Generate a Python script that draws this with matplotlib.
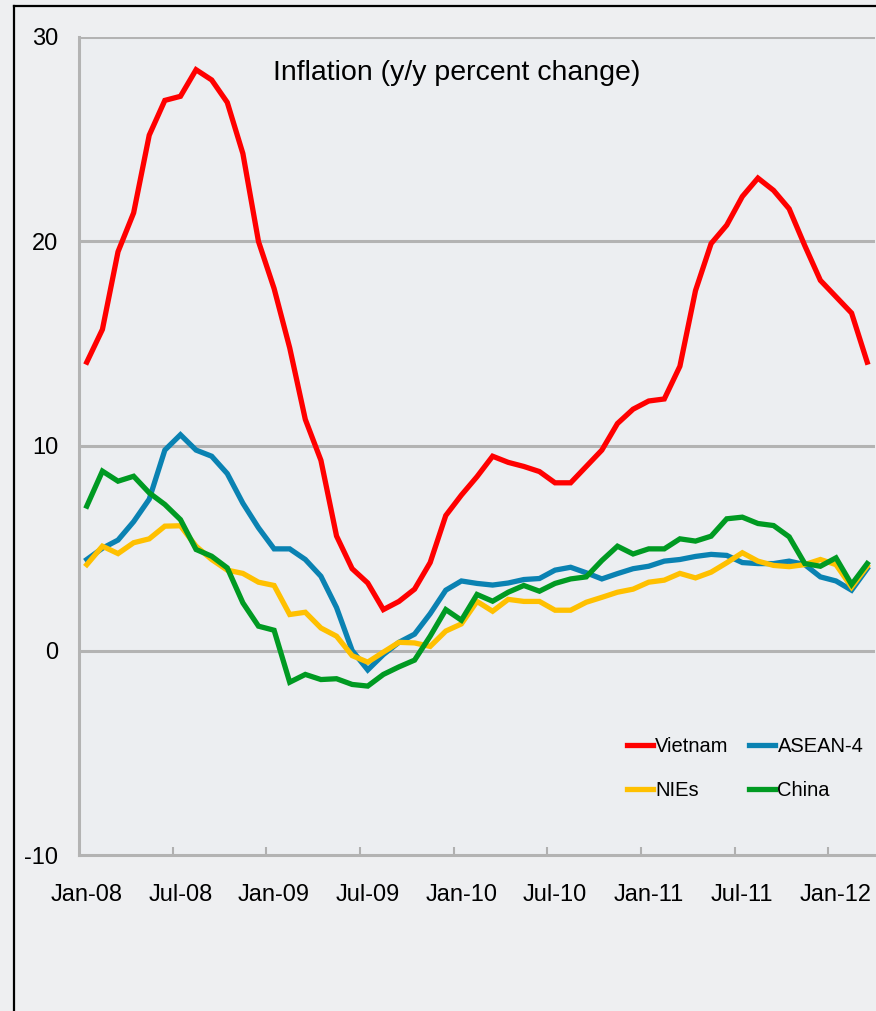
import matplotlib
matplotlib.use("Agg")
import matplotlib.pyplot as plt
from matplotlib.lines import Line2D

plt.rcParams['font.family'] = ['Liberation Sans', 'DejaVu Sans']

# monthly data, Jan-08 .. Mar-12
vietnam = [14.1, 15.7, 19.5, 21.4, 25.2, 26.9, 27.1, 28.4, 27.9, 26.8,
           24.3, 20.0, 17.7, 14.8, 11.3, 9.3, 5.6, 4.0, 3.3, 2.0,
           2.4, 3.0, 4.3, 6.6, 7.6, 8.5, 9.5, 9.2, 9.0, 8.75,
           8.2, 8.2, 9.0, 9.8, 11.1, 11.8, 12.2, 12.3, 13.9, 17.6,
           19.9, 20.8, 22.2, 23.1, 22.5, 21.6, 19.8, 18.1, 17.3, 16.5,
           14.1]
asean4 = [4.45, 5.0, 5.4, 6.3, 7.4, 9.8, 10.55, 9.8, 9.5, 8.65,
          7.2, 6.0, 4.97, 4.97, 4.45, 3.63, 2.1, 0.0, -0.95, -0.2,
          0.4, 0.8, 1.8, 2.95, 3.4, 3.28, 3.2, 3.3, 3.47, 3.52,
          3.93, 4.07, 3.8, 3.5, 3.76, 4.0, 4.12, 4.37, 4.45, 4.6,
          4.7, 4.65, 4.3, 4.25, 4.25, 4.37, 4.2, 3.6, 3.4, 2.95,
          4.0]
nies = [4.2, 5.1, 4.74, 5.27, 5.46, 6.08, 6.1, 5.1, 4.45, 3.93,
        3.77, 3.34, 3.18, 1.76, 1.87, 1.1, 0.7, -0.25, -0.57, -0.08,
        0.4, 0.37, 0.2, 0.95, 1.3, 2.4, 1.92, 2.5, 2.4, 2.4,
        1.97, 1.97, 2.36, 2.6, 2.85, 3.0, 3.34, 3.44, 3.77, 3.55,
        3.83, 4.29, 4.78, 4.37, 4.16, 4.1, 4.2, 4.45, 4.2, 3.1,
        4.12]
china = [7.06, 8.77, 8.28, 8.52, 7.71, 7.14, 6.4, 4.94, 4.61, 4.04,
         2.33, 1.19, 0.99, -1.55, -1.17, -1.42, -1.38, -1.66, -1.74, -1.17,
         -0.8, -0.47, 0.7, 2.0, 1.48, 2.74, 2.41, 2.85, 3.18, 2.9,
         3.28, 3.5, 3.6, 4.4, 5.1, 4.72, 4.97, 4.97, 5.46, 5.35,
         5.59, 6.44, 6.52, 6.21, 6.11, 5.56, 4.25, 4.12, 4.53, 3.23,
         4.25]
tick_labels = ["Jan-08", "Jul-08", "Jan-09", "Jul-09", "Jan-10",
               "Jul-10", "Jan-11", "Jul-11", "Jan-12"]
y_ticks = [-10, 0, 10, 20, 30]

fig = plt.figure(figsize=(8.76, 10.11), dpi=100, facecolor='#eeeff1')
ax = fig.add_axes([79 / 876, 156 / 1011, 796 / 876, 818 / 1011])
ax.set_facecolor('#eceef1')

x = list(range(len(vietnam)))
series = [("Vietnam", vietnam, '#ff0000'),
          ("ASEAN-4", asean4, '#0a82b2'),
          ("NIEs", nies, '#ffc000'),
          ("China", china, '#009a22')]
handles = {}
for name, vals, col in series:
    handles[name], = ax.plot(x, vals, color=col, lw=3.8, label=name,
                             solid_joinstyle='miter', zorder=3)

ax.set_xlim(-0.5, len(x) - 0.5)
ax.set_ylim(-10, 30)
ax.set_yticks(y_ticks)
ax.set_yticklabels([str(v) for v in y_ticks])
ax.set_xticks(range(0, len(x), 6))
ax.set_xticklabels(tick_labels)
ax.set_xticks([5.5 + 6 * k for k in range(8)], minor=True)
ax.tick_params(axis='both', which='major', length=0, labelsize=17)
ax.tick_params(axis='y', pad=15)
ax.tick_params(axis='x', pad=21)
ax.tick_params(axis='x', which='minor', direction='in', length=6,
               width=1.5, color='#b0b0b0')

for v in y_ticks[1:]:
    ax.axhline(v, color='#b3b3b3', lw=2.2, zorder=1)
for s in ['top', 'right']:
    ax.spines[s].set_visible(False)
for s in ['left', 'bottom']:
    ax.spines[s].set_color('#b3b3b3')
    ax.spines[s].set_linewidth(2.2)

ax.text(0.475, 0.956, "Inflation (y/y percent change)", transform=ax.transAxes,
        ha='center', va='center', fontsize=20.5)

order = ["Vietnam", "NIEs", "ASEAN-4", "China"]
ax.legend([handles[n] for n in order], order, ncol=2, loc='upper left',
          bbox_to_anchor=(0.688, 0.144), frameon=False, fontsize=14.5,
          handlelength=1.3, handletextpad=0.12, columnspacing=1.0,
          labelspacing=1.25, borderpad=0, borderaxespad=0)

# outer frame (left and top edges visible)
fig.add_artist(Line2D([14 / 876, 14 / 876], [0, 1 - 6 / 1011], color='black',
                      lw=1.6, transform=fig.transFigure))
fig.add_artist(Line2D([14 / 876, 1], [1 - 6 / 1011, 1 - 6 / 1011], color='black',
                      lw=1.6, transform=fig.transFigure))

fig.savefig("out.png", dpi=100, facecolor=fig.get_facecolor())
